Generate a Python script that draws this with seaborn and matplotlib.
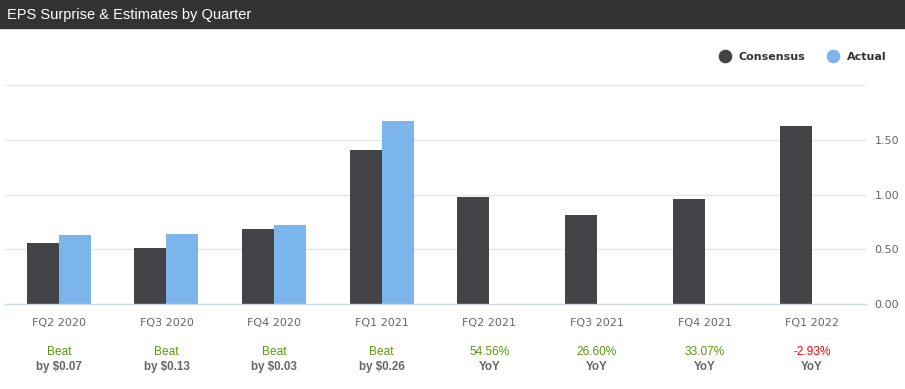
import numpy as np
import pandas as pd
import seaborn as sns
import matplotlib.pyplot as plt
from matplotlib.lines import Line2D
from matplotlib.patches import Rectangle

# data
quarters = ["FQ2 2020", "FQ3 2020", "FQ4 2020", "FQ1 2021",
            "FQ2 2021", "FQ3 2021", "FQ4 2021", "FQ1 2022"]
consensus = [0.56, 0.51, 0.69, 1.41, 0.98, 0.81, 0.96, 1.63]
actual = [0.63, 0.64, 0.72, 1.67, np.nan, np.nan, np.nan, np.nan]
note_top = ["Beat", "Beat", "Beat", "Beat", "54.56%", "26.60%", "33.07%", "-2.93%"]
note_bottom = ["by $0.07", "by $0.13", "by $0.03", "by $0.26", "YoY", "YoY", "YoY", "YoY"]
y_ticks = [0, 0.5, 1.0, 1.5, 2.0]
y_labels = ["0.00", "0.50", "1.00", "1.50", ""]

df = pd.DataFrame({"quarter": quarters * 2,
                   "series": ["Consensus"] * len(quarters) + ["Actual"] * len(quarters),
                   "eps": consensus + actual})

sns.set_theme(style="white")
plt.rcParams["font.family"] = ["DejaVu Sans"]

W, H = 905, 389
fig = plt.figure(figsize=(W / 100, H / 100), dpi=100)
fig.patch.set_facecolor("white")

# dark header band
fig.patches.append(Rectangle((0, 1 - 28 / H), 1, 28 / H, transform=fig.transFigure,
                             color="#333333", zorder=0))
fig.text(7 / W, 1 - 15 / H, "EPS Surprise & Estimates by Quarter", color="white",
         fontsize=10.5, family="Liberation Sans", va="center", ha="left")

left, right, top, bottom = 5, 866, 85.4, 304
ax = fig.add_axes([left / W, 1 - bottom / H, (right - left) / W, (bottom - top) / H])

pal = {"Consensus": "#434348", "Actual": "#7cb5ec"}
sns.barplot(data=df, x="quarter", y="eps", hue="series", palette=pal, width=0.595,
            saturation=1, linewidth=0, ax=ax, legend=False, zorder=3)

ax.set_xlim(-0.5, len(quarters) - 0.5)
ax.set_ylim(0, 2.0)
ax.set_xlabel("")
ax.set_ylabel("")
for s in ["top", "left", "right"]:
    ax.spines[s].set_visible(False)
ax.spines["bottom"].set_color("#ccd6eb")
ax.spines["bottom"].set_linewidth(1)
ax.spines["bottom"].set_zorder(4)

ax.yaxis.tick_right()
ax.set_yticks(y_ticks)
ax.set_yticklabels(y_labels)
ax.tick_params(axis="y", length=0, pad=6, labelsize=8, labelcolor="#666666")
ax.tick_params(axis="x", length=6, width=1, color="#ccd6eb", pad=4,
               labelsize=8, labelcolor="#666666")
for y in y_ticks[1:]:
    ax.axhline(y, color="#e6e6e6", lw=1, zorder=1)

# surprise notes under each quarter
for i, (t, b) in enumerate(zip(note_top, note_bottom)):
    c = "#ff0000" if t.startswith("-") else "#5a9a0c"
    ax.annotate(t, xy=(i, H - 352), xycoords=("data", "figure pixels"), ha="center",
                va="center", fontsize=8.6, color=c, family="Liberation Sans")
    ax.annotate(b, xy=(i, H - 367), xycoords=("data", "figure pixels"), ha="center",
                va="center", fontsize=8.4, color="#666666", family="Liberation Sans",
                weight="bold")

handles = [Line2D([], [], marker="o", ls="", color=pal[k], markersize=8.8) for k in pal]
fig.legend(handles=handles, labels=list(pal), loc="center right",
           bbox_to_anchor=(887 / W, 1 - 57 / H), ncol=2, frameon=False,
           handletextpad=0.75, columnspacing=2.0, handlelength=1.0,
           borderpad=0, borderaxespad=0,
           prop={"weight": "bold", "size": 8.0}, labelcolor="#333333")

fig.savefig("out.png", dpi=100)
